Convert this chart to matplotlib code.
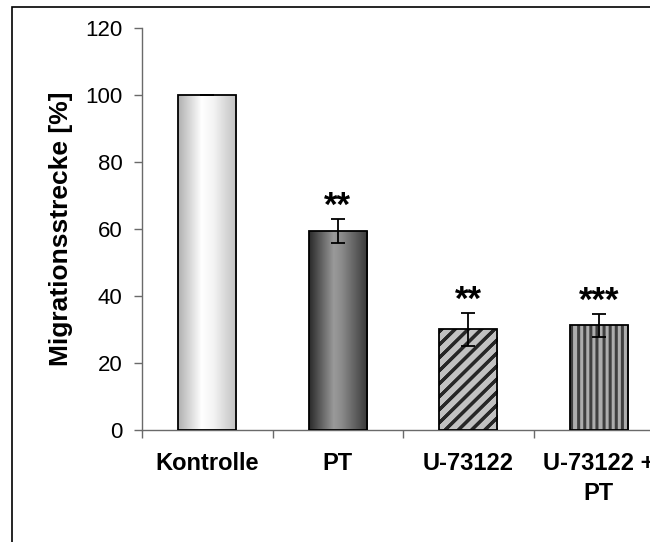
"""
Migrationsstrecke: Balkendiagramm im Excel-Stil
"""

import numpy as np
import matplotlib.pyplot as plt
from matplotlib.patches import Rectangle
from matplotlib.colors import LinearSegmentedColormap

plt.rcParams['font.family'] = ['Liberation Sans', 'DejaVu Sans']

# Daten
categories = ['Kontrolle', 'PT', 'U-73122', 'U-73122 +\nPT']
values = [100.0, 59.4, 30.1, 31.2]
errors = [0.0, 3.6, 4.9, 3.4]
signif = ['', '**', '**', '***']
y_ticks = [0, 20, 40, 60, 80, 100, 120]

W, H = 650, 542
fig = plt.figure(figsize=(W / 100, H / 100), dpi=100)
ax = fig.add_axes([142 / W, 1 - 430 / H, 522 / W, 402 / H])
ax.set_xlim(-0.5, 3.5)
ax.set_ylim(0, 120)

# Rahmen um das Diagramm (rechts/unten abgeschnitten)
fig.patches.append(Rectangle((12 / W, -0.1), 1.2, 1 - 7 / H + 0.1,
                             transform=fig.transFigure, fill=False,
                             edgecolor='black', linewidth=1.2))

x = np.arange(len(categories))
bars = ax.bar(x, values, width=0.445, color='none', edgecolor='black',
              linewidth=1.3, zorder=3)
ax.errorbar(x, values, yerr=errors, fmt='none', ecolor='black',
            elinewidth=1.3, capsize=4.8, capthick=1.3, zorder=4)


def grad_cmap(stops):
    return LinearSegmentedColormap.from_list('g', stops)


def bar_pixels(patch):
    (x0, y0), (x1, y1) = ax.transData.transform(
        [(patch.get_x(), patch.get_y()),
         (patch.get_x() + patch.get_width(), patch.get_y() + patch.get_height())])
    return int(round(x1 - x0)), int(round(y1 - y0))


def fill_bar(patch, img):
    ext = (patch.get_x(), patch.get_x() + patch.get_width(),
           patch.get_y(), patch.get_y() + patch.get_height())
    im = ax.imshow(img, extent=ext, aspect='auto', origin='upper',
                   interpolation='bilinear', zorder=2)
    im.set_clip_path(patch)


# Kontrolle: heller Verlauf
kontrolle_cmap = grad_cmap([(0, '#b0b0b0'), (0.4, '#ffffff'),
                            (0.6, '#f4f4f4'), (1, '#c0c0c0')])
fill_bar(bars[0], kontrolle_cmap(np.linspace(0, 1, 200))[None, :, :3])

# PT: dunkler Verlauf
pt_cmap = grad_cmap([(0, '#2a2a2a'), (0.42, '#9a9a9a'),
                     (0.55, '#8c8c8c'), (1, '#383838')])
fill_bar(bars[1], pt_cmap(np.linspace(0, 1, 200))[None, :, :3])

# U-73122: diagonale Streifen
w, h = bar_pixels(bars[2])
jj, ii = np.meshgrid(np.arange(w), np.arange(h))
phase = (jj + ii) % 13
img = np.where(phase < 5, 0.15, 0.76)
fill_bar(bars[2], np.dstack([img] * 3))

# U-73122 + PT: senkrechte Streifen
w, h = bar_pixels(bars[3])
jj, ii = np.meshgrid(np.arange(w), np.arange(h))
phase = jj % 6.2
img = np.where(phase < 3, 0.25, 0.68)
fill_bar(bars[3], np.dstack([img] * 3))

# Signifikanzsterne
for xi, v, e, s in zip(x, values, errors, signif):
    if s:
        ax.text(xi, v + e + 1.0, s, ha='center', va='baseline',
                fontsize=25, fontweight='bold')

# Achsen
for side in ['top', 'right']:
    ax.spines[side].set_visible(False)
for side in ['left', 'bottom']:
    ax.spines[side].set_color('#6a6a6a')
    ax.spines[side].set_linewidth(1.0)

ax.set_yticks(y_ticks)
ax.tick_params(axis='y', direction='out', length=6, width=1.0,
               color='#6a6a6a', labelsize=16, pad=8)
ax.set_xticks(x)
ax.set_xticklabels(categories, fontsize=17, fontweight='bold',
                   linespacing=1.4)
ax.tick_params(axis='x', length=0, pad=16)
ax.set_xticks(np.arange(-0.5, 4, 1.0), minor=True)
ax.tick_params(axis='x', which='minor', direction='out', length=6,
               width=1.0, color='#6a6a6a')

ax.set_ylabel('Migrationsstrecke [%]', fontsize=19, fontweight='bold',
              labelpad=9)

fig.savefig('out.png', dpi=100)
